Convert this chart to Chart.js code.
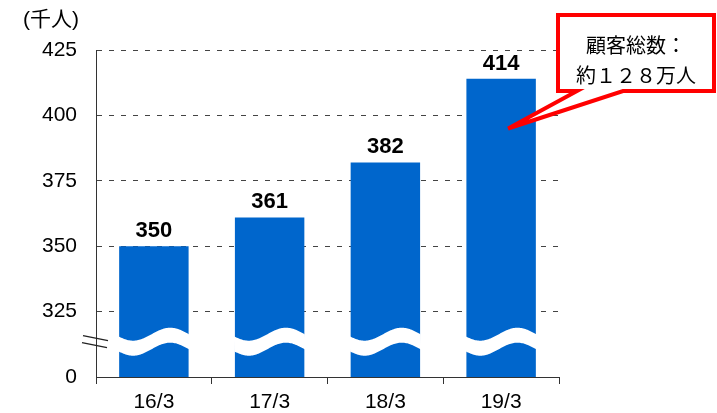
<!DOCTYPE html>
<html>
<head>
<meta charset="utf-8">
<script src="https://cdn.jsdelivr.net/npm/chart.js@4"></script>
<style>
  html, body { margin: 0; padding: 0; background: #fff; }
  #wrap { width: 717px; height: 413px; }
</style>
</head>
<body>
<div id="wrap"><canvas id="chart"></canvas></div>
<script>
const categories = ['16/3', '17/3', '18/3', '19/3'];
const customers = [350, 361, 382, 414];
// axis is broken: the bottom tick (300) is shown as 0
const tickValues = [300, 325, 350, 375, 400, 425];
const tickLabels = ['0', '325', '350', '375', '400', '425'];
const unitLabel = '(千人)';
const calloutLines = ['顧客総数：', '約１２８万人'];

const BLUE = '#0066CC';
const RED = '#FF0000';

// white wavy band across each bar + "//" marks on the y axis
const breakPlugin = {
  id: 'axisBreak',
  afterDatasetsDraw(chart) {
    const ctx = chart.ctx;
    const y = chart.scales.y;
    const c = y.getPixelForValue(313.5);
    const half = 7.5, amp = 6.5;
    chart.getDatasetMeta(0).data.forEach(bar => {
      const w = bar.width;
      const left = bar.x - w / 2;
      const wave = x => amp * Math.cos(2 * Math.PI * (x - left - 0.2 * w) / (1.07 * w));
      ctx.save();
      ctx.fillStyle = '#fff';
      ctx.beginPath();
      for (let x = left - 1; x <= left + w + 1; x++) {
        const yy = c - half + wave(x);
        if (x === left - 1) ctx.moveTo(x, yy); else ctx.lineTo(x, yy);
      }
      for (let x = left + w + 1; x >= left - 1; x--) {
        ctx.lineTo(x, c + half + wave(x));
      }
      ctx.closePath();
      ctx.fill();
      ctx.restore();
    });

    // break marks
    const ax = chart.chartArea.left;
    ctx.save();
    ctx.strokeStyle = '#222';
    ctx.lineWidth = 1.3;
    ctx.beginPath();
    ctx.moveTo(ax - 13, c - 6); ctx.lineTo(ax + 12, c - 1);
    ctx.moveTo(ax - 14, c + 1); ctx.lineTo(ax + 11, c + 6);
    ctx.stroke();
    ctx.restore();
  }
};

const labelPlugin = {
  id: 'barLabels',
  afterDatasetsDraw(chart) {
    const ctx = chart.ctx;
    ctx.save();
    ctx.font = 'bold 22px "Liberation Sans", Arial, sans-serif';
    ctx.fillStyle = '#000';
    ctx.textAlign = 'center';
    ctx.textBaseline = 'alphabetic';
    chart.getDatasetMeta(0).data.forEach((bar, i) => {
      ctx.fillText(String(customers[i]), bar.x, bar.y - 9);
    });
    ctx.restore();
  }
};

const calloutPlugin = {
  id: 'callout',
  afterDraw(chart) {
    const ctx = chart.ctx;
    const bar = chart.getDatasetMeta(0).data[3];
    const tipX = bar.x + 7;
    const tipY = chart.scales.y.getPixelForValue(395);
    const l = 558, t = 15, r = 714, b = 91;

    ctx.save();
    // unit label
    ctx.font = '21px "Liberation Sans", "Noto Sans CJK JP", sans-serif';
    ctx.fillStyle = '#000';
    ctx.textBaseline = 'middle';
    ctx.textAlign = 'left';
    ctx.fillText(unitLabel, 23, 20);

    ctx.beginPath();
    ctx.moveTo(l, t);
    ctx.lineTo(r, t);
    ctx.lineTo(r, b);
    ctx.lineTo(623, b);
    ctx.lineTo(tipX, tipY);
    ctx.lineTo(577, b);
    ctx.lineTo(l, b);
    ctx.closePath();
    ctx.fillStyle = '#fff';
    ctx.fill();
    ctx.lineWidth = 4;
    ctx.lineJoin = 'miter';
    ctx.strokeStyle = RED;
    ctx.stroke();

    ctx.font = '20px "Noto Sans CJK JP", sans-serif';
    ctx.fillStyle = '#000';
    ctx.textAlign = 'center';
    ctx.fillText(calloutLines[0], 636, 45);
    ctx.fillText(calloutLines[1], 636, 75);
    ctx.restore();
  }
};

const ctx = document.getElementById('chart').getContext('2d');
const chart = new Chart(ctx, {
  type: 'bar',
  data: {
    labels: categories,
    datasets: [{
      data: customers,
      backgroundColor: BLUE,
      borderWidth: 0,
      barPercentage: 0.6,
      categoryPercentage: 1
    }]
  },
  options: {
    responsive: true,
    maintainAspectRatio: false,
    animation: false,
    devicePixelRatio: 1,
    layout: { padding: { left: 0, top: 50, right: 158, bottom: 0 } },
    plugins: {
      legend: { display: false },
      tooltip: { enabled: false }
    },
    scales: {
      x: {
        grid: {
          display: true,
          offset: true,
          drawOnChartArea: false,
          drawTicks: true,
          tickLength: 7,
          color: '#333'
        },
        border: { display: true, color: '#333', width: 1 },
        ticks: {
          color: '#000',
          padding: 6,
          font: { family: '"Liberation Sans", Arial, sans-serif', size: 21 }
        },
        afterFit(scale) { scale.height = 36; }
      },
      y: {
        min: 300,
        max: 425,
        afterBuildTicks(scale) {
          scale.ticks = tickValues.map(v => ({ value: v }));
        },
        ticks: {
          color: '#000',
          padding: 19,
          font: { family: '"Liberation Sans", Arial, sans-serif', size: 21 },
          callback: (v) => tickLabels[tickValues.indexOf(v)]
        },
        grid: {
          drawTicks: false,
          color: '#444',
          lineWidth: 1
        },
        border: { display: true, color: '#333', width: 1, dash: [5, 7] },
        afterFit(scale) { scale.width = 96; }
      }
    }
  },
  plugins: [breakPlugin, labelPlugin, calloutPlugin]
});
</script>
</body>
</html>
